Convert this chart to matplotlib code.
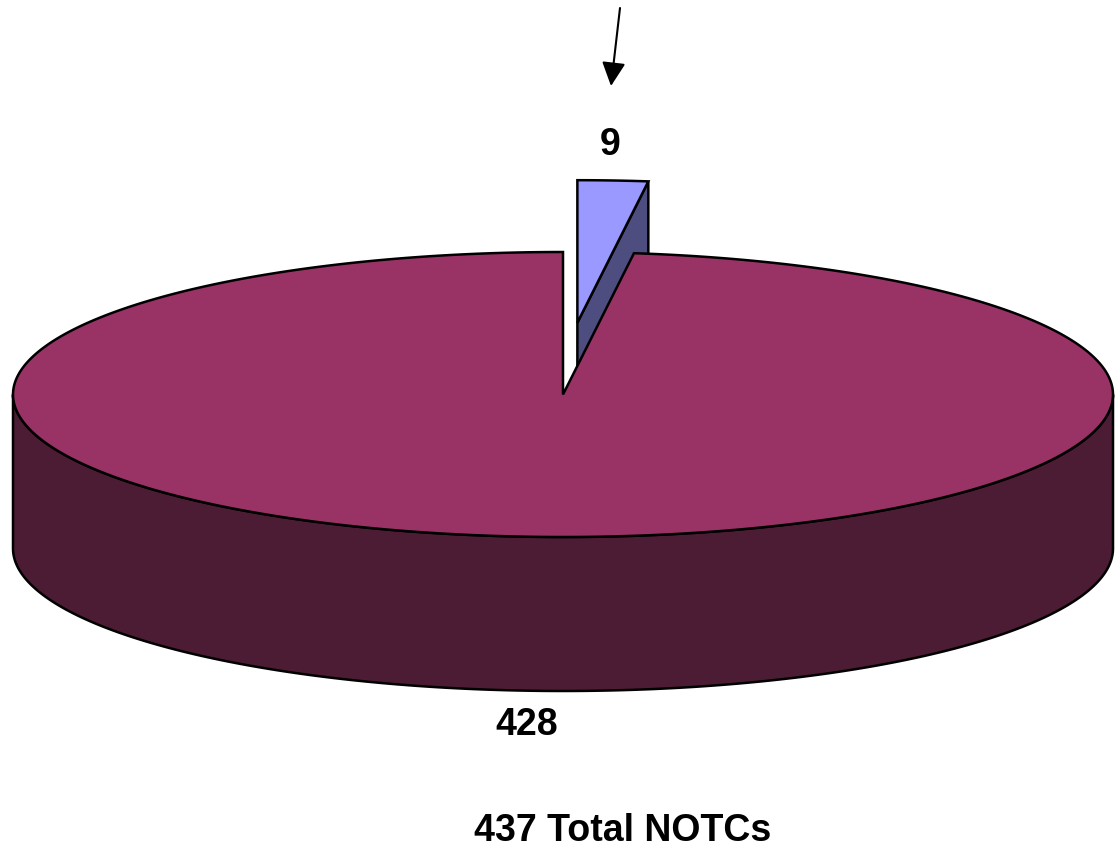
import numpy as np
import matplotlib
matplotlib.use("Agg")
import matplotlib.pyplot as plt
from matplotlib.patches import Polygon

# NOTC counts: small exploded slice first, then the rest
values = [9, 428]
top_colors = ["#9999FF", "#993366"]
side_colors = ["#4D4D80", "#4C1B34"]
total_label = "Total NOTCs"

# pie geometry in pixel units (top ellipse centre, semi axes, wall depth)
cx, cy = 563.0, 394.5
ra, rb = 550.0, 142.5
depth = 154.0
explode = 0.505

plt.rcParams["font.family"] = ["Liberation Sans", "DejaVu Sans"]

fig = plt.figure(figsize=(11.16, 8.48), dpi=100)
ax = fig.add_axes([0, 0, 1, 1])
ax.set_xlim(0, 1116)
ax.set_ylim(848, 0)
ax.axis("off")


def rim(theta, ox=0.0, oy=0.0, dz=0.0):
    # point on the ellipse, theta clockwise from 12 o'clock (radians)
    return np.column_stack([cx + ox + ra * np.sin(theta),
                            cy + oy - rb * np.cos(theta) + dz])


total = sum(values)
angles = np.cumsum([0] + values) / total * 2 * np.pi
edge = dict(edgecolor="black", linewidth=1.8, joinstyle="miter")

# small slice, pushed out along its bisector (horizontal push damped a bit)
t0, t1 = angles[0], angles[1]
mid = (t0 + t1) / 2
ox = 0.8 * explode * ra * np.sin(mid)
oy = -explode * rb * np.cos(mid)
apex = np.array([[cx + ox, cy + oy]])
cut = np.vstack([apex, rim(np.array([t1]), ox, oy),
                 rim(np.array([t1]), ox, oy, depth), apex + [0, depth]])
ax.add_patch(Polygon(cut, closed=True, facecolor=side_colors[0], **edge))
arc = rim(np.linspace(t0, t1, 20), ox, oy)
ax.add_patch(Polygon(np.vstack([apex, arc]), closed=True,
                     facecolor=top_colors[0], **edge))

# big slice: front wall then top face
s0, s1 = angles[1], angles[2]
wall_t = np.linspace(np.pi / 2, 3 * np.pi / 2, 200)
wall = np.vstack([rim(wall_t), rim(wall_t[::-1], dz=depth)])
ax.add_patch(Polygon(wall, closed=True, facecolor=side_colors[1], **edge))
arc = rim(np.linspace(s0, s1, 400))
ax.add_patch(Polygon(np.vstack([[cx, cy], arc]), closed=True,
                     facecolor=top_colors[1], **edge))

# labels
lab = dict(fontsize=27, fontweight="bold", ha="center", va="center")
ax.text(610, 145, str(values[0]), **lab)
ax.text(527, 725, str(values[1]), **lab)
ax.text(623, 831, f"{total} {total_label}", **lab)

ax.annotate("", xy=(611, 86), xytext=(620, 8),
            arrowprops=dict(arrowstyle="-|>,head_length=1.45,head_width=0.72",
                            mutation_scale=10, color="black", lw=1.5,
                            shrinkA=0, shrinkB=0))

fig.savefig("out.png", dpi=100)
